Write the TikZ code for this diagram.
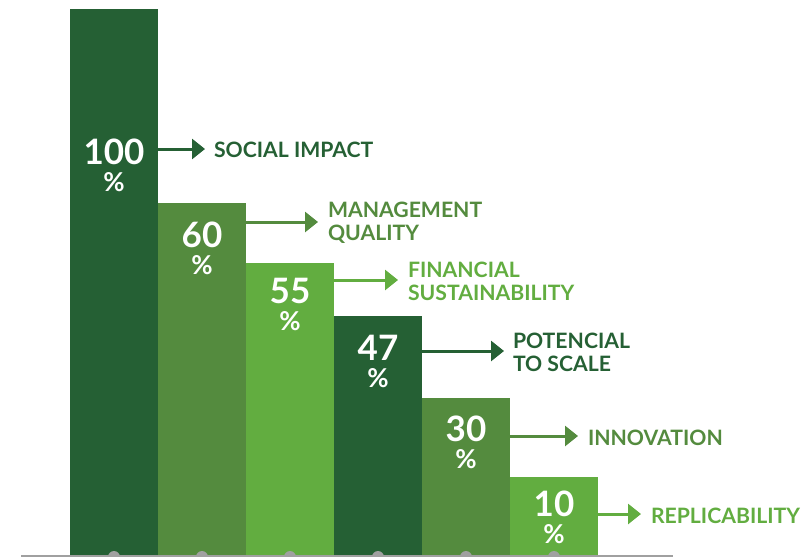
\documentclass[tikz,border=0pt]{standalone}
\usepackage{fontspec}
\setmainfont{Lato}
\usetikzlibrary{arrows.meta}
\definecolor{cdark}{HTML}{256034}
\definecolor{cmid}{HTML}{548B3E}
\definecolor{clight}{HTML}{62AD40}
\definecolor{cgray}{HTML}{A0A0A0}
\newcommand{\bignum}[1]{{\fontsize{35}{35}\selectfont #1}}
\tikzset{
  bar/.style={inner sep=0pt, outer sep=0pt, draw=none, anchor=north west, minimum width=88pt},
  numstack/.style={text=white, inner sep=0pt, anchor=base, align=center, font=\bfseries\fontsize{26}{26.5}\selectfont},
  lbl/.style={inner sep=0pt, outer sep=0pt, anchor=base west, align=left, font=\bfseries\fontsize{21.2}{23}\selectfont},
  arr/.style={line width=3pt, -{Triangle[length=13pt,width=20pt]}},
}
\begin{document}
\begin{tikzpicture}[x=1pt,y=-1pt]
\useasboundingbox (0,0) rectangle (812,557);
\clip (0,0) rectangle (812,557);
% bars
\node[bar, fill=cdark,  minimum height=546pt] (b1) at (70,9) {};
\node[bar, fill=cmid,   minimum height=352pt] (b2) at (158,203) {};
\node[bar, fill=clight, minimum height=292pt] (b3) at (246,263) {};
\node[bar, fill=cdark,  minimum height=239pt] (b4) at (334,316) {};
\node[bar, fill=cmid,   minimum height=157pt] (b5) at (422,398) {};
\node[bar, fill=clight, minimum height=78pt]  (b6) at (510,477) {};
% numbers (base = baseline of the % line)
\node[numstack] (n1) at (114,191) {\bignum{100}\\\%};
\node[numstack] (n2) at (202,274) {\bignum{60}\\\%};
\node[numstack] (n3) at (290,330) {\bignum{55}\\\%};
\node[numstack] (n4) at (378,387) {\bignum{47}\\\%};
\node[numstack] (n5) at (466,468) {\bignum{30}\\\%};
\node[numstack] (n6) at (554,543) {\bignum{10}\\\%};
% labels (base = baseline of the last line)
\node[lbl, text=cdark]  (l1) at (214,157) {SOCIAL IMPACT};
\node[lbl, text=cmid]   (l2) at (328,240) {MANAGEMENT\\QUALITY};
\node[lbl, text=clight] (l3) at (408,300) {FINANCIAL\\SUSTAINABILITY};
\node[lbl, text=cdark]  (l4) at (513,371) {POTENCIAL\\TO SCALE};
\node[lbl, text=cmid]   (l5) at (588,445) {INNOVATION};
\node[lbl, text=clight] (l6) at (651,523) {REPLICABILITY};
% arrow starts on bar edges
\coordinate (s1) at (158,149);
\coordinate (s2) at (246,222);
\coordinate (s3) at (334,280);
\coordinate (s4) at (422,351);
\coordinate (s5) at (510,436);
\coordinate (s6) at (598,514);
\draw[arr, cdark]  (s1) -- ([xshift=-9pt]s1 -| l1.west);
\draw[arr, cmid]   (s2) -- ([xshift=-10pt]s2 -| l2.west);
\draw[arr, clight] (s3) -- ([xshift=-10pt]s3 -| l3.west);
\draw[arr, cdark]  (s4) -- ([xshift=-9pt]s4 -| l4.west);
\draw[arr, cmid]   (s5) -- ([xshift=-10pt]s5 -| l5.west);
\draw[arr, clight] (s6) -- ([xshift=-10pt]s6 -| l6.west);
% baseline
\coordinate (g0) at (21,555.5);
\coordinate (g1) at (673,555.5);
\draw[cgray, line width=2pt] (g0) -- (g1);
\foreach \cx in {114,202,290,378,466,554}
  \fill[cgray] (\cx,557) circle (6pt);
\end{tikzpicture}
\end{document}
